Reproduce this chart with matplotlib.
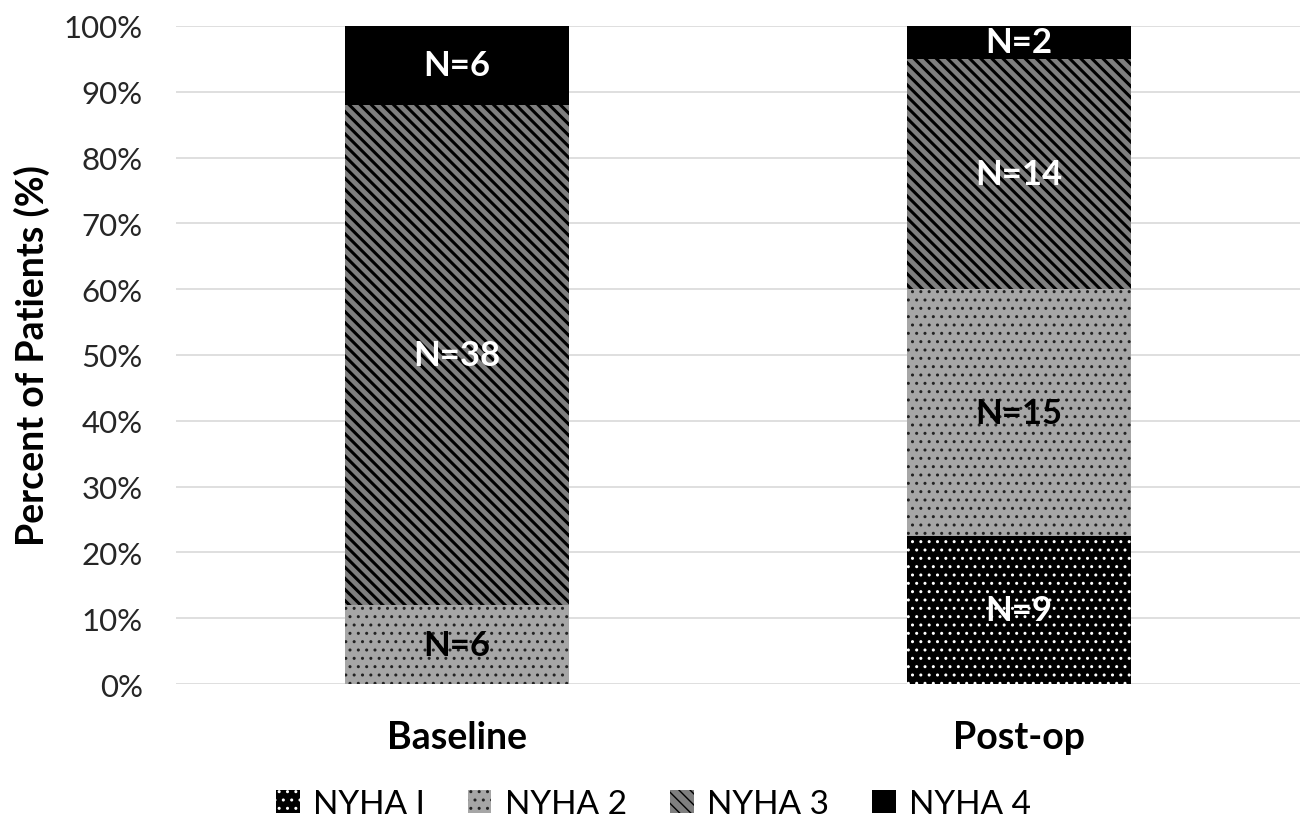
import matplotlib

matplotlib.use("Agg")
import matplotlib.pyplot as plt
import numpy as np

groups = ["Baseline", "Post-op"]
classes = ["NYHA I", "NYHA 2", "NYHA 3", "NYHA 4"]
# patient counts per class, one list per NYHA class (Baseline, Post-op)
nyha1 = [0, 9]
nyha2 = [6, 15]
nyha3 = [38, 14]
nyha4 = [6, 2]

counts = np.array([nyha1, nyha2, nyha3, nyha4], dtype=float)
totals = counts.sum(axis=0)
shares = counts / totals * 100

plt.rcParams["font.family"] = ["Lato", "DejaVu Sans"]

styles = [
    dict(color="#000000", hatch="..", edge="#ffffff", hlw=1.0, text="white"),
    dict(color="#a6a6a6", hatch="..", edge="#222222", hlw=1.0, text="black"),
    dict(color="#7f7f7f", hatch="\\\\\\", edge="#000000", hlw=2.2, text="white"),
    dict(color="#000000", hatch="", edge="#000000", hlw=1.0, text="white"),
]

fig = plt.figure(figsize=(13.07, 8.28), dpi=100)
ax = fig.add_axes([0.1347, 0.1727, 0.86, 0.7947])

x = np.arange(len(groups))
bottom = np.zeros(len(groups))
handles = []
for i, st in enumerate(styles):
    with plt.rc_context({"hatch.linewidth": st["hlw"]}):
        bars = ax.bar(x, shares[i], bottom=bottom, width=0.4, color=st["color"],
                      hatch=st["hatch"], edgecolor=st["edge"], linewidth=0,
                      label=classes[i], zorder=3)
    for p in bars.patches:
        if hasattr(p, "set_hatch_linewidth"):
            p.set_hatch_linewidth(st["hlw"])
    handles.append(bars)
    for j in range(len(groups)):
        if counts[i, j] > 0:
            ax.text(x[j], bottom[j] + shares[i, j] / 2, f"N={int(counts[i, j])}",
                    ha="center", va="center", fontsize=25, fontweight="bold",
                    color=st["text"], zorder=4)
    bottom += shares[i]

ax.set_xlim(-0.5, 1.5)
ax.set_ylim(0, 100)
ax.set_yticks(np.arange(0, 101, 10))
ax.set_yticklabels([f"{v}%" for v in range(0, 101, 10)], fontsize=22.5, color="#262626")
ax.set_xticks(x)
ax.set_xticklabels(groups, fontsize=27, fontweight="bold")
ax.tick_params(length=0, axis="y", pad=24)
ax.tick_params(length=0, axis="x", pad=26)
ax.grid(axis="y", color="#d9d9d9", linewidth=1.2, zorder=0)
for s in ax.spines.values():
    s.set_visible(False)
ax.set_ylabel("Percent of Patients (%)", fontsize=27, fontweight="bold", labelpad=10)

fig.legend(handles=handles, labels=classes, loc="center", ncol=4,
           bbox_to_anchor=(0.5, 1 - 805 / 828), frameon=False, fontsize=24,
           handlelength=0.7, handleheight=0.7, columnspacing=1.3, handletextpad=0.4,
           borderpad=0)

fig.savefig("out.png", dpi=100)
